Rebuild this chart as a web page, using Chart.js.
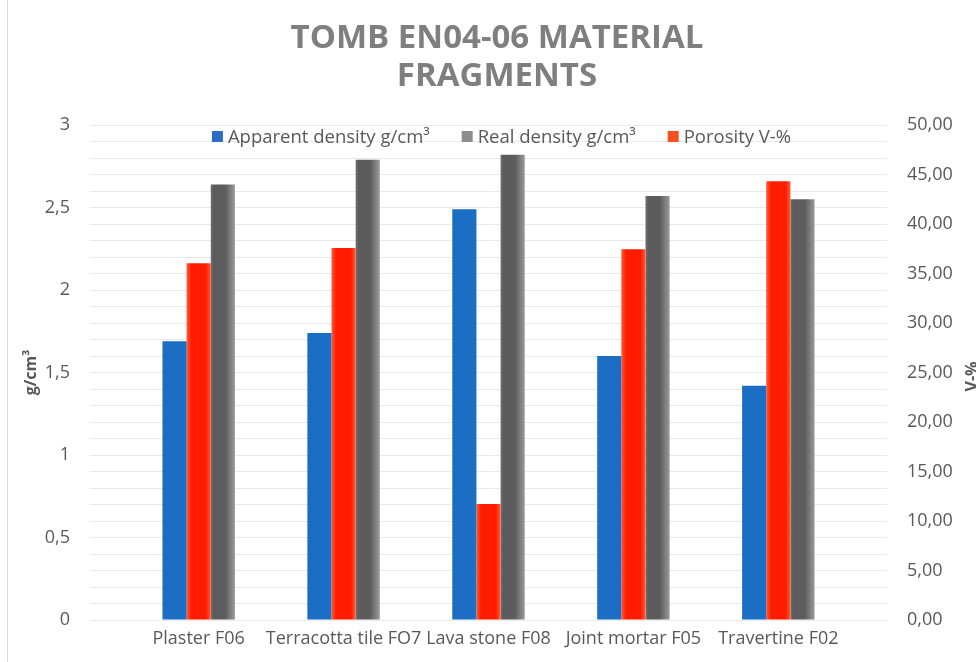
<!DOCTYPE html>
<html>
<head>
<meta charset="utf-8">
<script src="https://cdn.jsdelivr.net/npm/chart.js@4.4.1/dist/chart.umd.min.js"></script>
<style>
  html, body { margin: 0; padding: 0; background: #ffffff; }
  #wrap { position: relative; width: 976px; height: 662px; }
  #frame { position: absolute; left: 7px; top: 0; width: 1px; height: 662px; background: #d9d9d9; }
  canvas { display: block; }
</style>
</head>
<body>
<div id="wrap">
  <div id="frame"></div>
  <canvas id="chart" width="976" height="662"></canvas>
</div>
<script>
// Sample categories
const categories = ['Plaster F06', 'Terracotta tile FO7', 'Lava stone F08', 'Joint mortar F05', 'Travertine F02'];

// Densities in g/cm³ (left axis)
const apparentDensity = [1.69, 1.74, 2.49, 1.60, 1.42];
const realDensity = [2.64, 2.79, 2.82, 2.57, 2.55];

// Porosity in volume-% (right axis)
const porosity = [36.03, 37.58, 11.72, 37.45, 44.31];

// Axis tick labels (comma decimal separator)
const densityTickLabels = ['0', '0,5', '1', '1,5', '2', '2,5', '3'];
const porosityTickLabels = ['0,00', '5,00', '10,00', '15,00', '20,00', '25,00', '30,00', '35,00', '40,00', '45,00', '50,00'];

const titleLines = ['TOMB EN04-06 MATERIAL', 'FRAGMENTS'];
const textColor = '#595959';
const FONT = '"Open Sans", "Liberation Sans", sans-serif';

const toPoints = arr => arr.map((v, i) => ({ x: i, y: v }));

// Bars get a horizontal shading; options must stay per-element, so colours are scriptable
const flat = c => () => c;

// Paints a left-to-right gradient on every bar of datasets that define gradientStops
const barShading = {
  id: 'barShading',
  beforeDatasetsDraw(chart) {
    const ctx = chart.ctx;
    chart.data.datasets.forEach((ds, di) => {
      if (!ds.gradientStops) return;
      chart.getDatasetMeta(di).data.forEach(el => {
        const { x, width } = el.getProps(['x', 'width'], true);
        const g = ctx.createLinearGradient(x - width / 2, 0, x + width / 2, 0);
        ds.gradientStops.forEach(([p, c]) => g.addColorStop(p, c));
        el.options.backgroundColor = g;
      });
    });
  }
};

// Legend drawn inside the plot area, in its own order
const legendOrder = [0, 2, 1];
const insideLegend = {
  id: 'insideLegend',
  afterDatasetsDraw(chart) {
    const ctx = chart.ctx;
    const area = chart.chartArea;
    const box = 11, gap = 5, spacing = 32;
    ctx.save();
    ctx.font = '18.5px ' + FONT;
    ctx.textBaseline = 'middle';
    ctx.textAlign = 'left';
    const items = legendOrder.map(i => chart.data.datasets[i]);
    const widths = items.map(d => box + gap + ctx.measureText(d.label).width);
    const total = widths.reduce((a, b) => a + b, 0) + spacing * (items.length - 1);
    let x = (area.left + area.right) / 2 + 13 - total / 2;
    const y = area.top + 11.5;
    items.forEach((d, k) => {
      ctx.fillStyle = d.legendColor;
      ctx.fillRect(x, y - box / 2, box, box);
      ctx.fillStyle = textColor;
      ctx.fillText(d.label, x + box + gap, y + 1);
      x += widths[k] + spacing;
    });
    ctx.restore();
  }
};

// Title of the secondary axis, reading bottom-to-top along the right edge
const rightAxisTitle = {
  id: 'rightAxisTitle',
  afterDraw(chart) {
    const ctx = chart.ctx;
    const area = chart.chartArea;
    ctx.save();
    ctx.translate(chart.width + 1, (area.top + area.bottom) / 2 + 4);
    ctx.rotate(-Math.PI / 2);
    ctx.font = 'bold 16px ' + FONT;
    ctx.fillStyle = textColor;
    ctx.textAlign = 'center';
    ctx.textBaseline = 'alphabetic';
    ctx.fillText('V-%', 0, 0);
    ctx.restore();
  }
};

new Chart(document.getElementById('chart'), {
  type: 'bar',
  data: {
    datasets: [
      {
        label: 'Apparent density g/cm³',
        data: toPoints(apparentDensity),
        yAxisID: 'y',
        backgroundColor: flat('#1c6ec4'),
        legendColor: '#2a6dc4'
      },
      {
        label: 'Porosity V-%',
        data: toPoints(porosity),
        yAxisID: 'y1',
        backgroundColor: flat('#ff1a00'),
        gradientStops: [[0, '#ff5a35'], [0.2, '#ff1c00'], [0.8, '#ff1c00'], [1, '#ff5a35']],
        legendColor: '#f4511e'
      },
      {
        label: 'Real density g/cm³',
        data: toPoints(realDensity),
        yAxisID: 'y',
        backgroundColor: flat('#5e5e5e'),
        gradientStops: [[0, '#707070'], [0.12, '#5b5b5b'], [0.6, '#5d5d5d'], [1, '#9a9a9a']],
        legendColor: '#8c8c8c'
      }
    ]
  },
  options: {
    responsive: false,
    animation: false,
    devicePixelRatio: 1,
    layout: { padding: { left: 18, right: 0, top: 0, bottom: 0 } },
    datasets: {
      bar: { categoryPercentage: 0.5, barPercentage: 1.0 }
    },
    plugins: {
      legend: { display: false },
      tooltip: { enabled: false },
      title: {
        display: true,
        text: titleLines,
        color: '#7f7f7f',
        font: { family: FONT, size: 33, weight: 'bold', lineHeight: 38 / 33 },
        padding: { top: 20, bottom: 29 }
      }
    },
    scales: {
      x: {
        type: 'linear',
        offset: false,
        min: -0.75,
        max: 4.75,
        afterBuildTicks: s => { s.ticks = categories.map((_, i) => ({ value: i })); },
        afterFit: s => { s.height = 42; },
        grid: { display: false, drawTicks: false, offset: false },
        border: { display: false },
        ticks: {
          autoSkip: false,
          maxRotation: 0,
          minRotation: 0,
          padding: 8,
          color: textColor,
          font: { family: FONT, size: 18 },
          callback: v => categories[v]
        }
      },
      y: {
        position: 'left',
        min: 0,
        max: 3,
        afterFit: s => { s.width = 72; },
        grid: { color: '#e9e9e9', lineWidth: 1, drawTicks: false },
        border: { display: false },
        ticks: {
          stepSize: 0.1,
          maxTicksLimit: 100,
          autoSkip: false,
          padding: 20,
          color: textColor,
          font: { family: FONT, size: 18 },
          callback: v => {
            const h = v * 2;
            return Math.abs(h - Math.round(h)) < 1e-6 ? densityTickLabels[Math.round(h)] : '';
          }
        },
        title: {
          display: true,
          text: 'g/cm³',
          color: textColor,
          font: { family: FONT, size: 16, weight: 'bold' },
          padding: { top: 4, bottom: 0 }
        }
      },
      y1: {
        position: 'right',
        min: 0,
        max: 50,
        afterFit: s => { s.width = 89; },
        grid: { drawOnChartArea: false, drawTicks: false },
        border: { display: false },
        ticks: {
          stepSize: 5,
          autoSkip: false,
          padding: 20,
          color: textColor,
          font: { family: FONT, size: 18 },
          callback: v => porosityTickLabels[Math.round(v / 5)]
        }
      }
    }
  },
  plugins: [barShading, insideLegend, rightAxisTitle]
});
</script>
</body>
</html>
